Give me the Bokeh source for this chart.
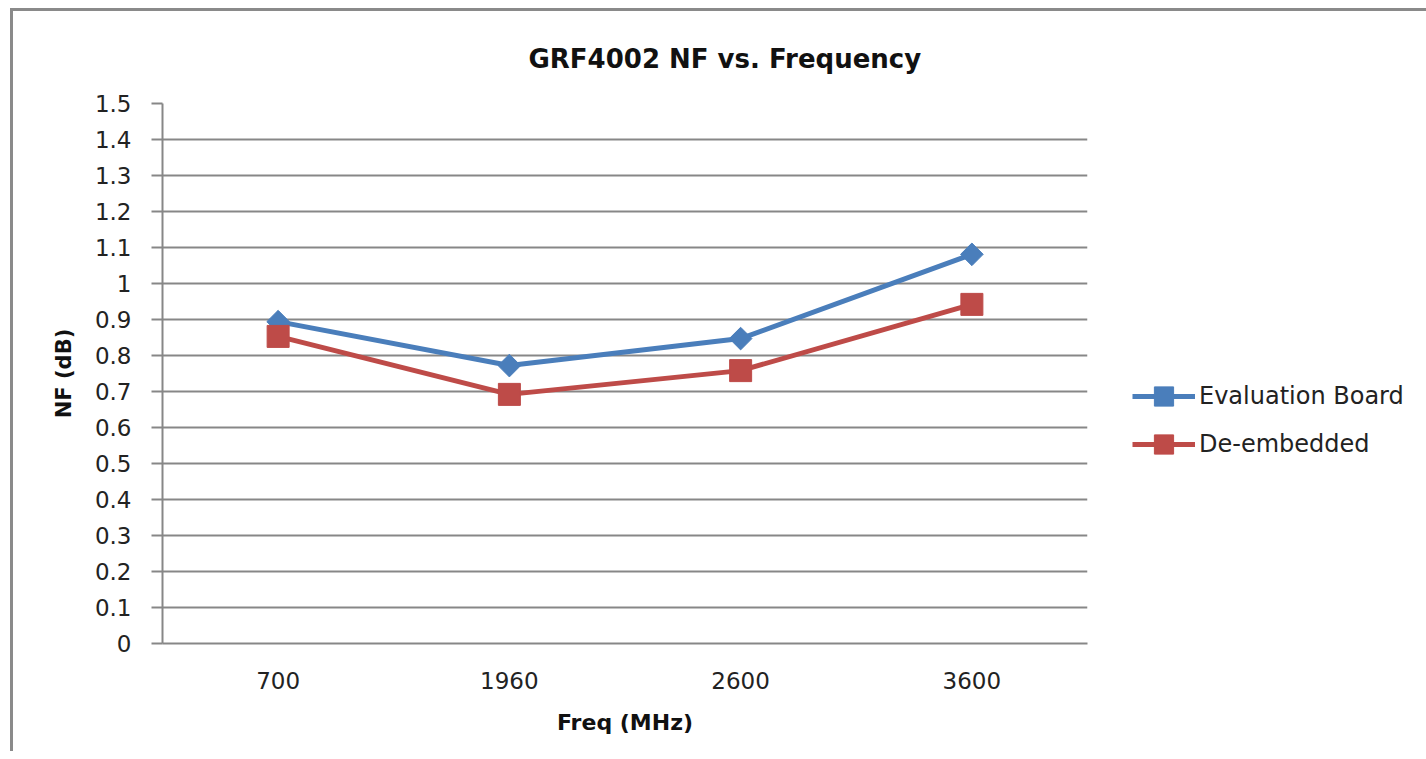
import math
from bokeh.plotting import figure
from bokeh.models import FactorRange, Range1d, FixedTicker, Legend, LegendItem
from bokeh.embed import file_html
from bokeh.resources import INLINE

categories = ["700", "1960", "2600", "3600"]
eval_board = [0.894, 0.772, 0.847, 1.081]
de_embedded = [0.853, 0.692, 0.758, 0.942]
y_ticks = [0, 0.1, 0.2, 0.3, 0.4, 0.5, 0.6, 0.7, 0.8, 0.9, 1, 1.1, 1.2, 1.3, 1.4, 1.5]

FONT = "DejaVu Sans"
GRID = "#878787"

OX, OY = 13, 11  # page position of the canvas origin
p = figure(x_range=FactorRange(*categories), y_range=Range1d(0, 1.5),
           output_backend="svg", toolbar_location=None,
           title="GRF4002 NF vs. Frequency")
p.frame_width = 1087 - 162
p.frame_height = 643 - 103
p.styles = {"border-left": "3px solid #8a8a8a", "border-top": "3px solid #8a8a8a",
            "margin-left": "10px", "margin-top": "8px"}

p.min_border_left = 162 - OX
p.min_border_top = 103 - OY
p.min_border_right = 0
p.min_border_bottom = 740 - (643 - OY)
p.outline_line_color = None
p.background_fill_color = "white"
p.border_fill_color = "white"

p.title.align = "left"
p.title.vertical_align = "top"
p.title.text_font = FONT
p.title.text_font_size = "26px"
p.title.text_font_style = "bold"
p.title.text_color = "#111111"
p.title.offset = 528 - 162
p.title.standoff = 55

# y axis
p.yaxis.ticker = FixedTicker(ticks=y_ticks)
p.yaxis.major_label_overrides = {0: "0", 1: "1"}
p.yaxis.axis_label = "NF (dB)"
p.yaxis.axis_label_text_font = FONT
p.yaxis.axis_label_text_font_style = "bold"
p.yaxis.axis_label_text_font_size = "21px"
p.yaxis.axis_label_text_color = "#111111"
p.yaxis.axis_label_standoff = 16
p.yaxis.major_label_text_font = FONT
p.yaxis.major_label_text_font_size = "23px"
p.yaxis.major_label_text_color = "#222222"
p.yaxis.major_label_standoff = 20
p.yaxis.axis_line_color = GRID
p.yaxis.axis_line_width = 2
p.yaxis.major_tick_line_color = GRID
p.yaxis.major_tick_line_width = 2
p.yaxis.major_tick_out = 11
p.yaxis.major_tick_in = 0
p.yaxis.minor_tick_line_color = None

# x axis
p.xaxis.axis_label = "Freq (MHz)"
p.xaxis.axis_label_text_font = FONT
p.xaxis.axis_label_text_font_style = "bold"
p.xaxis.axis_label_text_font_size = "22px"
p.xaxis.axis_label_text_color = "#111111"
p.xaxis.axis_label_standoff = 18
p.xaxis.major_label_text_font = FONT
p.xaxis.major_label_text_font_size = "23px"
p.xaxis.major_label_text_color = "#222222"
p.xaxis.major_label_standoff = 22
p.xaxis.axis_line_color = GRID
p.xaxis.axis_line_width = 2
p.xaxis.major_tick_line_color = None
p.xaxis.minor_tick_line_color = None

p.xgrid.grid_line_color = None
p.ygrid.grid_line_color = GRID
p.ygrid.grid_line_width = 2

BLUE = "#4A7EBB"
RED = "#BE4B48"
l1 = p.line(categories, eval_board, line_color=BLUE, line_width=5)
s1 = p.scatter(categories, eval_board, marker="square", angle=math.pi / 4, size=16,
               fill_color=BLUE, line_color=BLUE)
l2 = p.line(categories, de_embedded, line_color=RED, line_width=5)
s2 = p.scatter(categories, de_embedded, marker="square", size=22, fill_color=RED, line_color=RED)

legend = Legend(items=[LegendItem(label="Evaluation Board", renderers=[l1, s1]),
                       LegendItem(label="De-embedded", renderers=[l2, s2])],
                location=(45, 175))
legend.border_line_color = None
legend.background_fill_alpha = 0
legend.margin = 0
legend.padding = 0
legend.glyph_width = 63
legend.glyph_height = 48
legend.spacing = 0
legend.label_standoff = 4
legend.label_text_font = FONT
legend.label_text_font_size = "24px"
legend.label_text_color = "#222222"
p.add_layout(legend, "right")

open("out.html", "w").write(file_html(p, INLINE))
